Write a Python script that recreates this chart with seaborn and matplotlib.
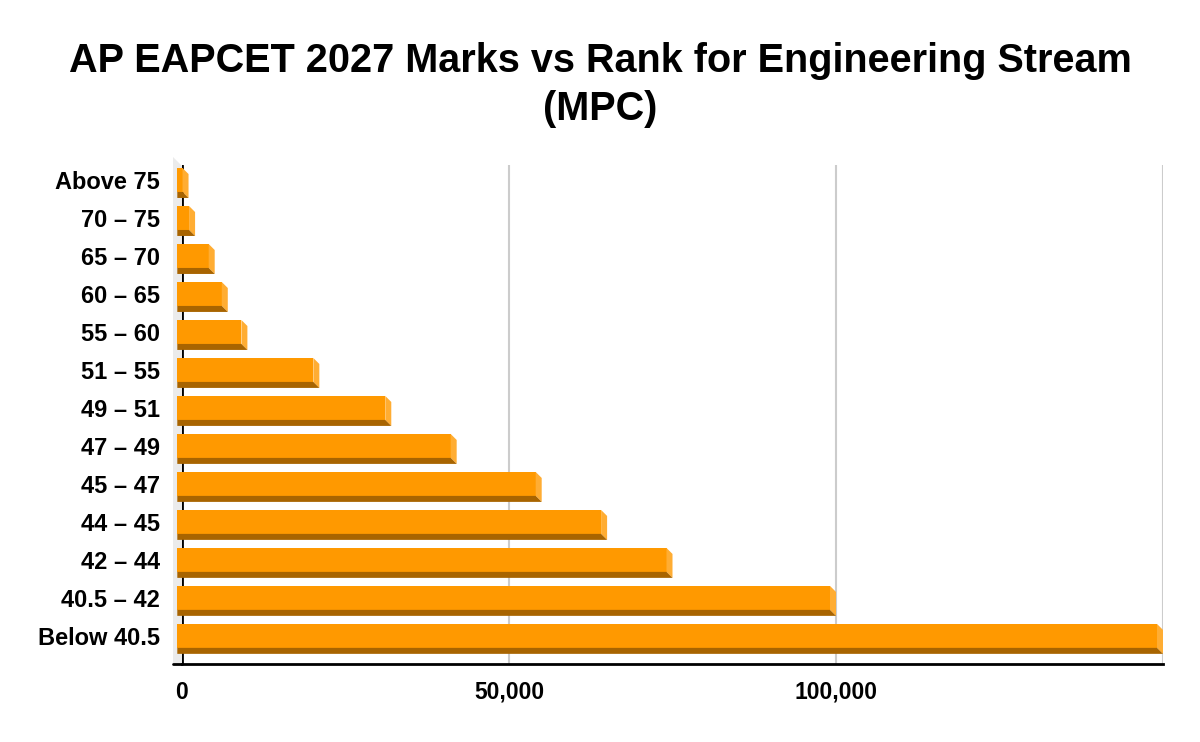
import matplotlib
matplotlib.use("Agg")
import matplotlib.pyplot as plt
from matplotlib.patches import Polygon
from matplotlib.ticker import FuncFormatter
import seaborn as sns

# ---- data ----
marks = ["Above 75", "70 – 75", "65 – 70", "60 – 65", "55 – 60", "51 – 55",
         "49 – 51", "47 – 49", "45 – 47", "44 – 45", "42 – 44", "40.5 – 42",
         "Below 40.5"]
ranks = [1000, 2000, 5000, 7000, 10000, 21000, 32000, 42000, 55000,
         65000, 75000, 100000, 150000]
xticks = [0, 50000, 100000]

FRONT = "#ff9900"
SIDE = "#ffad33"
BOTTOM = "#a86400"
WALL = "#ebebeb"

sns.set_style("white")
plt.rcParams["font.family"] = ["Liberation Sans", "DejaVu Sans"]
plt.rcParams["font.weight"] = "bold"
plt.rcParams["text.color"] = "black"
plt.rcParams["xtick.color"] = "black"
plt.rcParams["ytick.color"] = "black"

W, H = 1200, 742
fig = plt.figure(figsize=(W / 100, H / 100), dpi=100)


def fx(px):
    return px / W


def fy(py):
    return 1 - py / H


# left side wall of the 3D box (drawn first, behind the axes)
wall = Polygon([(fx(173), fy(157)), (fx(182), fy(166)), (fx(182), fy(664)),
                (fx(173), fy(664))], closed=True, transform=fig.transFigure,
               facecolor=WALL, edgecolor="none", zorder=-2)
fig.patches.append(wall)

# plot area in pixels: x 182..1163, y 165..664
ax = fig.add_axes([fx(182), fy(664), fx(1163) - fx(182), fy(165) - fy(664)])

sns.barplot(x=ranks, y=marks, orient="h", color=FRONT, saturation=1,
            width=0.63, ax=ax, zorder=3)

ax.set_xlim(0, 150000)
ax.set_ylim(12.74, -0.395)

# pixel -> data unit conversions for the fake 3D depth
px_x = 150000 / (1163 - 182)
px_y = (12.74 + 0.395) / (664 - 165)
dx = 6 * px_x
dy = 6 * px_y
shift = 4.7 * px_x

for p in list(ax.patches):
    v = p.get_width()
    y0 = p.get_y()
    y1 = y0 + p.get_height()
    x0 = -shift
    x1 = v - dx
    p.set_x(x0)
    p.set_width(x1 - x0)
    p.set_edgecolor("none")
    p.set_clip_on(False)
    side = Polygon([(x1, y0), (x1 + dx, y0 + dy), (x1 + dx, y1 + dy), (x1, y1)],
                   closed=True, facecolor=SIDE, edgecolor="none",
                   zorder=3, clip_on=False)
    bottom = Polygon([(x0, y1), (x1, y1), (x1 + dx, y1 + dy), (x0, y1 + dy)],
                     closed=True, facecolor=BOTTOM, edgecolor="none",
                     zorder=3, clip_on=False)
    ax.add_patch(side)
    ax.add_patch(bottom)

# grid and axis lines
for xv in xticks[1:] + [150000]:
    ax.axvline(xv, color="#cccccc", lw=1.5, zorder=1)
ax.axvline(0, color="black", lw=2, zorder=2)

for s in ["top", "right", "left"]:
    ax.spines[s].set_visible(False)
ax.spines["bottom"].set_linewidth(2)
ax.spines["bottom"].set_color("black")
ax.spines["bottom"].set_zorder(4)
ax.plot([-9 * px_x, 0], [12.74, 12.74], color="black", lw=2,
        clip_on=False, zorder=4)

ax.set_xticks(xticks)
ax.xaxis.set_major_formatter(FuncFormatter(lambda v, _: f"{int(v):,}"))
ax.tick_params(axis="x", length=0, pad=12, labelsize=16.5, labelcolor="black")
ax.tick_params(axis="y", length=0, pad=16, labelsize=17, labelcolor="black")
for lab in ax.get_xticklabels() + ax.get_yticklabels():
    lab.set_fontweight("bold")
ax.set_xlabel("")
ax.set_ylabel("")

fig.text(0.5, fy(85), "AP EAPCET 2027 Marks vs Rank for Engineering Stream\n(MPC)",
         ha="center", va="center", fontsize=28.5, fontweight="bold",
         linespacing=1.3, color="black")

fig.savefig("out.png", dpi=100)
